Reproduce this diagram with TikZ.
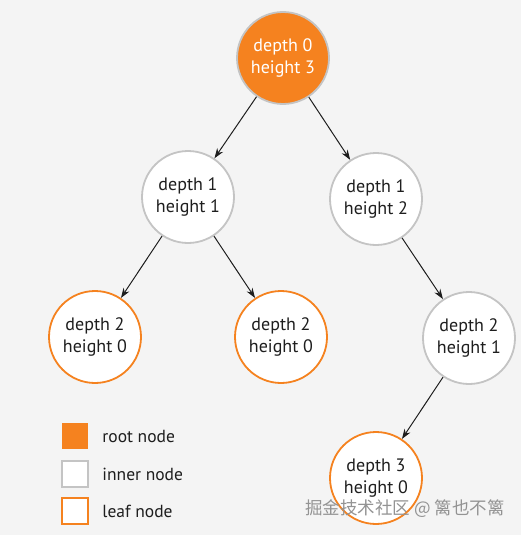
\documentclass[tikz,border=0pt]{standalone}
\usepackage{fontspec}
\setmainfont{PT Sans}
\newfontfamily\cjkfont{Noto Sans CJK SC}
\usetikzlibrary{positioning, shapes, arrows.meta}
\definecolor{rootorange}{HTML}{F5821F}
\definecolor{ringgray}{HTML}{C4C4C4}
\definecolor{bggray}{HTML}{F4F4F4}
\definecolor{inkdark}{HTML}{1E1E1E}
\tikzset{
  treenode/.style={circle, minimum size=92pt, inner sep=0pt, line width=1.8pt, fill=white, align=center, text=inkdark, font=\fontsize{18}{22}\selectfont},
  rootnode/.style={treenode, fill=rootorange, draw=ringgray, text=white},
  innernode/.style={treenode, draw=ringgray},
  leafnode/.style={treenode, draw=rootorange},
  treelink/.style={-{Stealth[length=10pt, width=7pt]}, line width=1pt, inkdark},
  keybox/.style={minimum size=26pt, inner sep=0pt, line width=1.8pt},
  keytext/.style={text=inkdark, font=\fontsize{17.5}{22}\selectfont, anchor=west},
}

\begin{document}
\begin{tikzpicture}[x=1pt, y=-1pt]
  % background
  \fill[bggray] (0,0) rectangle (521,535);
  \useasboundingbox (0,0) rectangle (521,535);

  % tree
  \node[rootnode]  (root)  at (283,58)  {depth 0\\height 3};
  \node[innernode] (left)  at (188,197) {depth 1\\height 1};
  \node[innernode] (right) at (376,199) {depth 1\\height 2};
  \node[leafnode]  (leafa) at (95,337)  {depth 2\\height 0};
  \node[leafnode]  (leafb) at (281,337) {depth 2\\height 0};
  \node[innernode] (mid)   at (469,338) {depth 2\\height 1};
  \node[leafnode]  (leafc) at (376,478) {depth 3\\height 0};

  \draw[treelink] (root) -- (left);
  \draw[treelink] (root) -- (right);
  \draw[treelink] (left) -- (leafa);
  \draw[treelink] (left) -- (leafb);
  \draw[treelink] (right) -- (mid);
  \draw[treelink] (mid) -- (leafc);

  % legend
  \node[keybox, fill=rootorange] (keyroot) at (75,436) {};
  \node[keybox, fill=white, draw=ringgray] (keyinner) at (75,474) {};
  \node[keybox, fill=white, draw=rootorange] (keyleaf) at (75,511) {};
  \node[keytext, right=10pt of keyroot] (txtroot) {root node};
  \node[keytext, right=10pt of keyinner] (txtinner) {inner node};
  \node[keytext, right=10pt of keyleaf] (txtleaf) {leaf node};

  % watermark
  \node[text=gray!85, font=\cjkfont\fontsize{17.5}{20}\selectfont] (mark) at (405,509) {掘金技术社区 @ 篱也不篱};
\end{tikzpicture}
\end{document}
